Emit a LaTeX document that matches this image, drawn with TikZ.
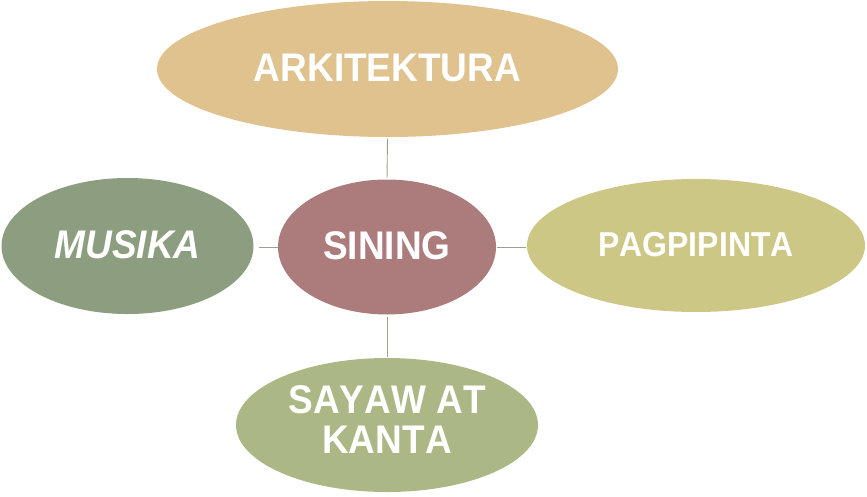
\documentclass[tikz,border=0pt]{standalone}
\usepackage{fontspec}
\setmainfont{Liberation Sans}[Kerning=Off]
\usetikzlibrary{shapes.geometric}
\definecolor{arkc}{HTML}{DFC28D}
\definecolor{sinc}{HTML}{AC7C7C}
\definecolor{musc}{HTML}{8C9E7F}
\definecolor{pagc}{HTML}{CDC786}
\definecolor{sayc}{HTML}{ABB886}
\definecolor{linec}{HTML}{9BA38C}
\tikzset{
  blob/.style={ellipse, inner sep=0pt, text=white, font=\fontsize{37}{39}\selectfont\bfseries, align=center},
  link/.style={draw=linec, line width=0.9pt}
}
\newcommand{\stx}[1]{\raisebox{2.5pt}{\scalebox{1}[1.08]{#1}}}
\begin{document}
\begin{tikzpicture}[x=1pt,y=-1pt]
\useasboundingbox (0,0) rectangle (867,496);
\node[blob, fill=arkc, minimum width=461pt, minimum height=136pt] (ark) at (387.5,69) {\stx{ARKITEKTURA}};
\node[blob, fill=sinc, minimum width=218pt, minimum height=135pt] (sin) at (387,247) {\stx{SINING}};
\node[blob, fill=musc, minimum width=252pt, minimum height=136pt] (mus) at (127.5,246) {\stx{\itshape MUSIKA}};
\node[blob, fill=pagc, minimum width=338pt, minimum height=133pt, font=\fontsize{32}{36}\selectfont\bfseries] (pag) at (696,245.5) {\stx{PAGPIPINTA}};
\node[blob, fill=sayc, minimum width=302pt, minimum height=134pt] (say) at (387,425) {\scalebox{1}[1.08]{\begin{tabular}{@{}c@{}}SAYAW AT\\[-2pt] KANTA\end{tabular}}};
\draw[link, shorten <=1.5pt, shorten >=1.5pt] (ark.south) -- (sin.north);
\draw[link, shorten <=5pt] (mus.east |- sin.west) -- (sin.west);
\draw[link, shorten <=1pt, shorten >=1pt] (sin.east) -- (pag.west |- sin.east);
\draw[link, shorten <=2pt, shorten >=1pt] (sin.south) -- (say.north);
\end{tikzpicture}
\end{document}
